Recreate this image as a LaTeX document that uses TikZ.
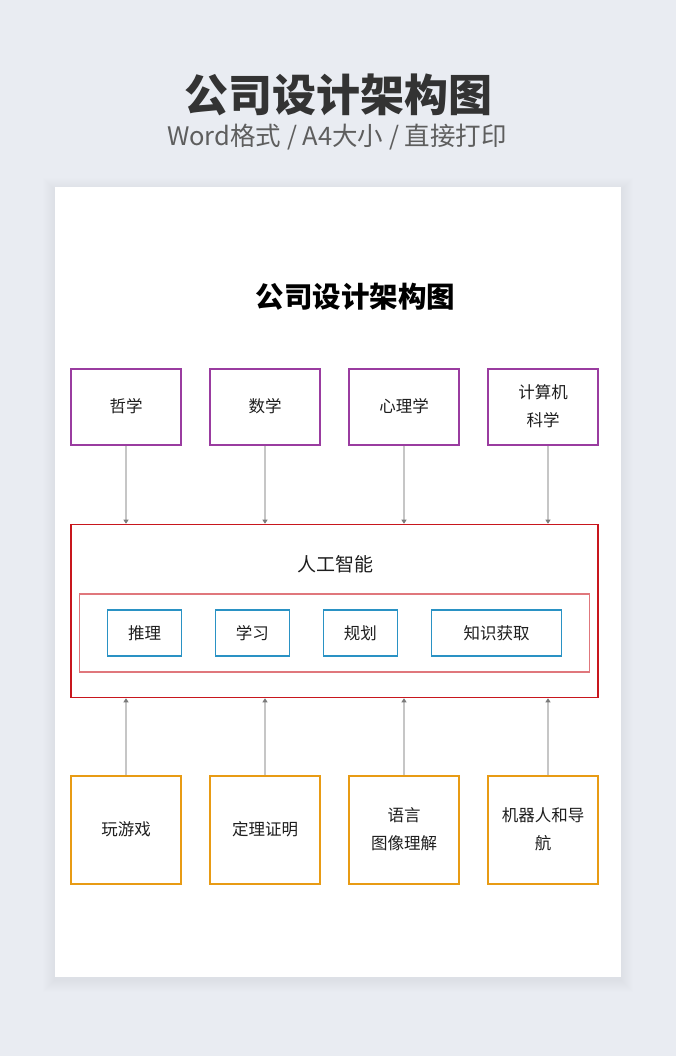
\documentclass[tikz,border=0pt]{standalone}
\usepackage{fontspec}
\setmainfont{Noto Sans CJK SC}
\usetikzlibrary{arrows.meta}
\definecolor{bgc}{HTML}{E9ECF2}
\definecolor{titlec}{HTML}{333333}
\definecolor{subc}{HTML}{5E5E5E}
\definecolor{purplec}{HTML}{9A3CA0}
\definecolor{redc}{HTML}{C8161D}
\definecolor{pinkc}{HTML}{E0777C}
\definecolor{bluec}{HTML}{2A92C4}
\definecolor{orangec}{HTML}{E89B14}
\definecolor{linec}{HTML}{C6C6C6}
\definecolor{tipc}{HTML}{7A7A7A}
\definecolor{textc}{HTML}{1E1E1E}
\newcommand{\rlbl}[1]{\raisebox{6.5pt}{\begin{tabular}{@{}c@{}}#1\end{tabular}}}
\begin{document}
\begin{tikzpicture}[x=1pt,y=-1pt,
  box/.style={draw, line width=1.6pt, fill=white, align=center, text=textc,
    font=\fontsize{16.5}{28}\selectfont, inner sep=0pt},
  topbox/.style={box, draw=purplec, minimum width=110, minimum height=76},
  botbox/.style={box, draw=orangec, minimum width=110, minimum height=108},
  subbox/.style={box, draw=bluec, minimum height=46},
  conn/.style={draw=linec, line width=1.3pt, -{Triangle[length=4pt,width=5pt,color=tipc]}}
]
\useasboundingbox (0,0) rectangle (676,1056);
\fill[bgc] (0,0) rectangle (676,1056);
% page shadow
\foreach \i in {1,...,12}{
  \fill[black, opacity=0.004] (55-\i,187-\i+3) rectangle (621+\i,977+\i+3);
}
\fill[white] (55,187) rectangle (621,977);

% headings
\node[text=titlec, font=\fontsize{44}{50}\selectfont\bfseries, inner sep=0pt] (head) at (338,95) {公司设计架构图};
\node[text=subc, font=\fontsize{25.5}{30}\selectfont, inner sep=0pt] (subhead) at (337,137) {Word格式 / A4大小 / 直接打印};
\node[text=black, font=\fontsize{28.5}{32}\selectfont\bfseries, inner sep=0pt] (title) at (355.5,297) {公司设计架构图};

% top row
\node[topbox] (t1) at (126,407) {\rlbl{哲学}};
\node[topbox] (t2) at (265,407) {\rlbl{数学}};
\node[topbox] (t3) at (404,407) {\rlbl{心理学}};
\node[topbox] (t4) at (543,407) {\rlbl{计算机\\科学}};

% AI box
\node[draw=redc, line width=1.6pt, minimum width=527, minimum height=173, inner sep=0pt] (ai) at (334.5,611) {};
\node[text=textc, font=\fontsize{19}{22}\selectfont, inner sep=0pt] (ailabel) at (335,564) {人工智能};
\node[draw=pinkc, line width=1.3pt, minimum width=510, minimum height=78, inner sep=0pt] (inner) at (334.5,633) {};
\node[subbox, minimum width=74] (s1) at (144.5,633) {推理};
\node[subbox, minimum width=74] (s2) at (252.4,633) {学习};
\node[subbox, minimum width=74] (s3) at (360.4,633) {规划};
\node[subbox, minimum width=130] (s4) at (496.6,633) {知识获取};

% bottom row
\node[botbox] (b1) at (126,830) {\rlbl{玩游戏}};
\node[botbox] (b2) at (265,830) {\rlbl{定理证明}};
\node[botbox] (b3) at (404,830) {\rlbl{语言\\图像理解}};
\node[botbox] (b4) at (543,830) {\rlbl{机器人和导\\航}};

% connectors
\draw[conn] (t1.south) -- (t1.south |- ai.north);
\draw[conn] (t2.south) -- (t2.south |- ai.north);
\draw[conn] (t3.south) -- (t3.south |- ai.north);
\draw[conn] ([xshift=5pt]t4.south) -- ([xshift=5pt]t4.south |- ai.north);
\draw[conn] (b1.north) -- (b1.north |- ai.south);
\draw[conn] (b2.north) -- (b2.north |- ai.south);
\draw[conn] (b3.north) -- (b3.north |- ai.south);
\draw[conn] ([xshift=5pt]b4.north) -- ([xshift=5pt]b4.north |- ai.south);
\end{tikzpicture}
\end{document}
